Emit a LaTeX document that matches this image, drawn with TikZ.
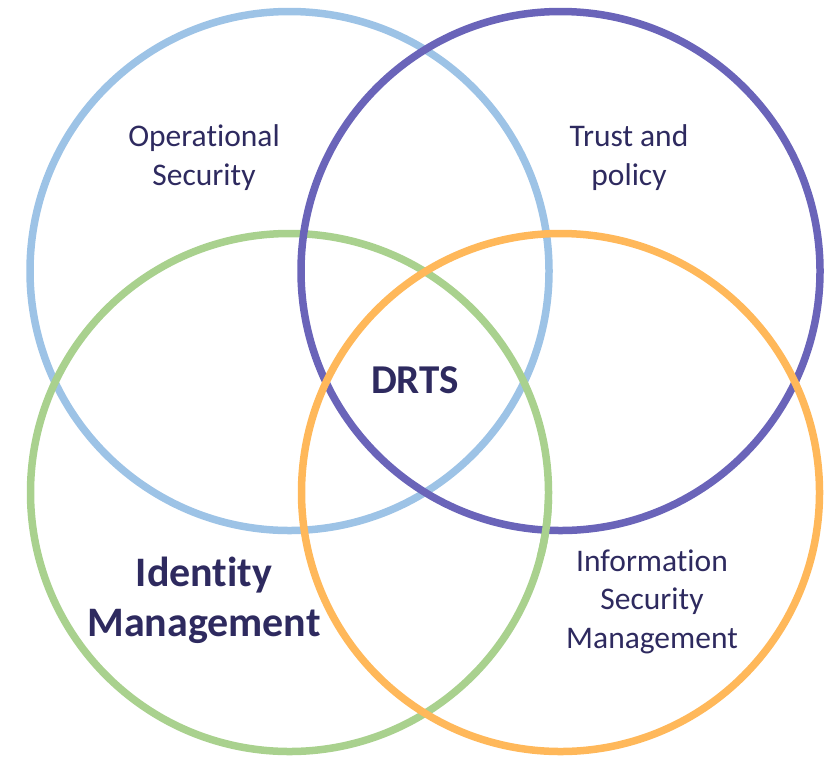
\documentclass[tikz,border=0pt]{standalone}
\usepackage{fontspec}
\setmainfont[Ligatures=NoCommon]{Carlito}
\definecolor{cblue}{HTML}{9DC3E6}
\definecolor{cpurple}{HTML}{6A64B9}
\definecolor{cgreen}{HTML}{A9D18E}
\definecolor{corange}{HTML}{FFB85A}
\definecolor{ctext}{HTML}{2E2A5F}
\tikzset{
  ring/.style={line width=7.5pt},
  lbl/.style={text=ctext, align=center, inner sep=0pt, anchor=base,
    font=\fontsize{31.5}{38.5}\selectfont},
  bold/.style={text=ctext, align=center, inner sep=0pt, anchor=base,
    font=\fontsize{42}{50}\selectfont\bfseries}
}
\begin{document}
\begin{tikzpicture}[x=1pt,y=-1pt]
\useasboundingbox (0,0) rectangle (834,756);
\coordinate (cb) at (289.5,271);
\coordinate (cp) at (560.5,271);
\coordinate (cg) at (289.5,492.5);
\coordinate (co) at (560.5,492.5);
\draw[ring, cblue] (cb) circle[radius=259.5];
\draw[ring, cgreen] (cg) circle[radius=259];
\draw[ring, cpurple] (cp) circle[radius=259.5];
\draw[ring, corange] (co) circle[radius=259];
\begin{scope}
  \clip (520,500) rectangle (580,555);
  \draw[ring, cgreen] (cg) circle[radius=259];
\end{scope}
\node[lbl] (ops) at (204,185) {Operational\\Security};
\node[lbl] (trust) at (629,185) {Trust and\\policy};
\node[lbl] (ism) at (652,648) {Information\\Security\\Management};
\node[bold] (idm) at (204,636) {Identity\\Management};
\node[bold, font=\fontsize{41}{50}\selectfont\bfseries] (drts) at (415,393) {DRTS};
\end{tikzpicture}
\end{document}
